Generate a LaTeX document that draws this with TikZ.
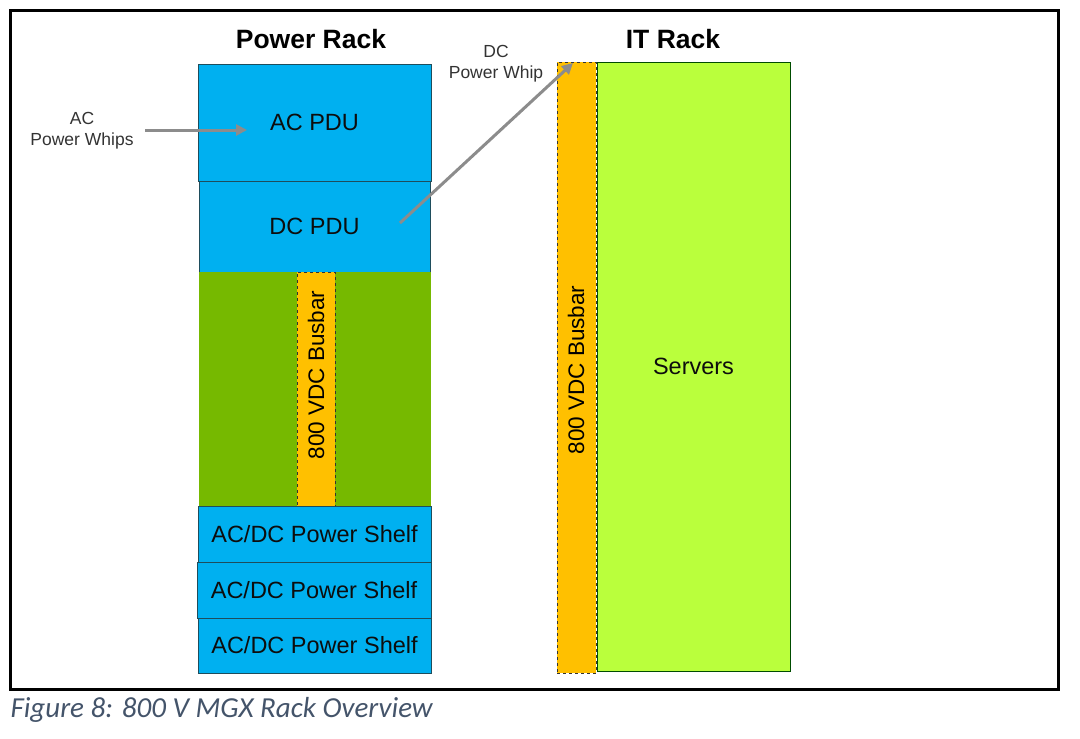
\documentclass[tikz,border=0pt]{standalone}
\usepackage{fontspec}
\setmainfont{Liberation Sans}
\newfontfamily\capfont{Carlito}
\usepackage{tikz}
\usetikzlibrary{arrows.meta}
\usetikzlibrary{positioning}
\definecolor{pdublue}{HTML}{00B0F0}
\definecolor{convgreen}{HTML}{76B900}
\definecolor{srvgreen}{HTML}{BAFF3C}
\definecolor{busorange}{HTML}{FFC000}
\definecolor{edgeteal}{HTML}{1E4D5C}
\definecolor{whipgray}{HTML}{8C8C8C}
\definecolor{capblue}{HTML}{44546A}

\begin{document}
\begin{tikzpicture}[x=1pt, y=-1pt, >={Triangle[length=11pt, width=11pt]}]

    \tikzstyle{blk} = [rectangle, draw=edgeteal, line width=1pt, anchor=north west, inner sep=0pt, outer sep=0pt, text=black!95, font=\fontsize{23.5}{28}\selectfont]
    \tikzstyle{bus} = [rectangle, draw=black!80, dashed, line width=0.8pt, fill=busorange, anchor=north west, inner sep=0pt, outer sep=0pt]
    \tikzstyle{buslab} = [rotate=90, font=\fontsize{22.5}{27}\selectfont]
    \tikzstyle{title} = [font=\bfseries\fontsize{26.5}{31}\selectfont]
    \tikzstyle{lab} = [align=center, text=black!80, font=\fontsize{17.5}{21}\selectfont]
    \tikzstyle{connector} = [->, whipgray, line width=3pt]

    \useasboundingbox (0,0) rectangle (1080,739);
    \draw[line width=3pt] (10,10) rectangle (1058,689);

    % Power rack %%%%%%%%%%%%%%%%%%%%%%%%%%%%%%%%%%%%%%%%%%%%%%%%%%%%%%%%%%%%%%%%
    \node[title] (tPower) at (311,39) {Power Rack};

    \node[blk, fill=pdublue, minimum width=233pt, minimum height=117pt] (acpdu) at (198,64) {AC PDU};
    \node[blk, fill=pdublue, minimum width=231pt, minimum height=91pt] (dcpdu) at (199,181) {DC PDU};
    \node[blk, fill=convgreen, draw=none, minimum width=232pt, minimum height=234pt] (conv) at (199,272) {};
    \node[bus, minimum width=38pt, minimum height=234pt] (busP) at (297,272) {};
    \node[buslab] (busPlab) at (316,375) {800 VDC Busbar};

    \node[blk, fill=pdublue, minimum width=233pt, minimum height=56pt] (shelfA) at (198,506) {AC/DC Power Shelf};
    \node[blk, fill=pdublue, minimum width=234pt, minimum height=56pt] (shelfB) at (197,562) {AC/DC Power Shelf};
    \node[blk, fill=pdublue, minimum width=233pt, minimum height=55pt] (shelfC) at (198,618) {AC/DC Power Shelf};

    % IT rack %%%%%%%%%%%%%%%%%%%%%%%%%%%%%%%%%%%%%%%%%%%%%%%%%%%%%%%%%%%%%%%%%%%
    \node[title] (tIT) at (673,39) {IT Rack};

    \node[blk, fill=srvgreen, draw=black!70!green, minimum width=193pt, minimum height=609pt] (servers) at (597,62) {Servers};
    \node[bus, minimum width=39pt, minimum height=611pt] (busIT) at (557,62) {};
    \node[buslab] (busITlab) at (576,370) {800 VDC Busbar};

    % Whips %%%%%%%%%%%%%%%%%%%%%%%%%%%%%%%%%%%%%%%%%%%%%%%%%%%%%%%%%%%%%%%%%%%%%
    \node[lab] (acwhip) at (82,131) {AC\\Power Whips};
    \node[lab] (dcwhip) at (496,64) {DC\\Power Whip};

    \coordinate (acin)  at (247,130);
    \coordinate (dcout) at (400,223);
    \coordinate (dcin)  at (573,63);

    \draw [connector] (acwhip.east) ++(8,-1) -- (acin);
    \draw [connector] (dcout) -- (dcin);

    % Caption
    \node[anchor=west, text=capblue, font=\capfont\itshape\fontsize{29}{34}\selectfont] (caption) at (7,710) {Figure 8: 800 V MGX Rack Overview};

\end{tikzpicture}
\end{document}
